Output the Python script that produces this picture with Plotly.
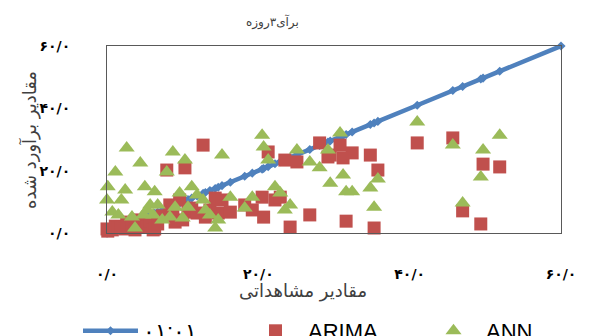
import plotly.graph_objects as go

# ---- data ----
observed = [0.0, 0.1, 0.7, 1.1, 1.5, 1.9, 2.4, 2.6, 3.3, 3.7, 4.4, 4.8, 5.0, 5.3, 5.7, 6.1,
            6.3, 6.7, 7.3, 7.9, 8.3, 8.7, 9.0, 9.6, 10.0, 10.3, 10.7, 11.2, 11.9, 12.7,
            13.0, 13.6, 14.3, 14.7, 15.2, 16.3, 18.2, 19.2, 20.5, 20.7, 21.3, 22.2, 22.9,
            23.5, 24.2, 25.1, 26.8, 28.1, 29.2, 29.5, 30.8, 31.2, 31.6, 32.4, 34.8, 35.3,
            35.8, 41.0, 45.7, 47.0, 49.4, 49.7, 51.9]
arima = [1.3, 0.6, 1.0, 2.2, 1.6, 1.9, 1.3, 3.5, 2.6, 1.0, 4.2, 2.6, 3.2, 1.9, 3.8, 1.0,
         1.3, 2.9, 5.5, 20.2, 9.0, 7.4, 3.5, 10.6, 4.2, 20.9, 6.7, 8.0, 6.4, 28.2,
         5.1, 7.4, 11.2, 6.4, 10.6, 6.7, 9.0, 7.4, 11.5, 5.1, 26.0, 10.6, 11.5,
         23.4, 1.9, 22.8, 5.8, 28.9, 24.4, 25.0, 28.2, 24.1, 3.8, 25.7, 25.0, 1.6,
         20.2, 28.9, 30.5, 7.1, 2.9, 22.1, 21.2]
ann = [10.6, 14.8, 6.7, 19.6, 5.8, 10.6, 13.8, 27.3, 5.1, 1.6, 22.5, 5.8, 14.8, 7.4, 9.0, 5.8,
       13.2, 9.0, 4.2, 19.6, 5.1, 26.0, 8.3, 12.8, 4.8, 23.4, 8.3, 14.8, 12.2, 10.6,
       7.4, 5.8, 1.6, 4.2, 25.0, 11.5, 8.0, 11.5, 31.4, 27.6, 23.4, 14.8, 12.8,
       7.4, 9.0, 26.6, 22.8, 20.9, 26.6, 16.0, 32.1, 18.6, 13.2, 13.2, 14.4, 8.3,
       17.3, 35.6, 28.2, 9.6, 18.0, 26.6, 31.4]
axis_min, axis_max = 0.0, 60.0
tick_vals = [0, 20, 40, 60]
tick_text = ["۰/۰", "۲۰/۰", "۴۰/۰", "۶۰/۰"]
series_names = ["۰۱:۰۱", "ARIMA", "ANN"]
chart_title = "برآی۳روزه"
x_title = "مقادیر مشاهداتی"
y_title = "مقادیر برآورد شده"

ref_line = sorted([axis_min] + observed + [axis_max])

BLUE, RED, GREEN = "#4F81BD", "#C0504D", "#9BBB59"
PW, PH, L, T = 454, 187, 107, 46

fig = go.Figure()
fig.add_trace(go.Scatter(x=ref_line, y=ref_line, mode="lines+markers", name=series_names[0],
                         line=dict(color=BLUE, width=4.5),
                         marker=dict(symbol="diamond", size=7, color=BLUE),
                         cliponaxis=False, legendwidth=95))
fig.add_trace(go.Scatter(x=observed, y=arima, mode="markers", name=series_names[1],
                         marker=dict(symbol="square", size=13, color=RED),
                         cliponaxis=False, legendwidth=108))
fig.add_trace(go.Scatter(x=observed, y=ann, mode="markers", name=series_names[2],
                         marker=dict(symbol="triangle-up", size=14, color=GREEN),
                         cliponaxis=False))

axis_common = dict(range=[axis_min, axis_max], tickvals=tick_vals, ticktext=tick_text,
                   showgrid=False, zeroline=False, showline=True, mirror=True,
                   linecolor="#595959", linewidth=1, ticks="",
                   tickfont=dict(family="DejaVu Sans", size=14, color="black", weight="bold"))
fig.update_xaxes(**axis_common, ticklabelstandoff=28)
fig.update_yaxes(**axis_common, ticklabelstandoff=33)

def px_x(p):
    return (p - L) / PW

def px_y(p):
    return (T + PH - p) / PH

ann_common = dict(xref="paper", yref="paper", showarrow=False, xanchor="center", yanchor="middle")
fig.add_annotation(text=chart_title, x=px_x(272), y=px_y(22), **ann_common,
                   font=dict(family="DejaVu Sans", size=12, color="#404040"))
fig.add_annotation(text=x_title, x=px_x(303), y=px_y(291), **ann_common,
                   font=dict(family="DejaVu Sans", size=18, color="#404040"))
fig.add_annotation(text=y_title, x=px_x(29), y=px_y(140), textangle=-90, **ann_common,
                   font=dict(family="DejaVu Sans", size=18, color="#404040"))

fig.update_layout(
    width=589, height=336,
    margin=dict(l=L, r=589 - L - PW, t=T, b=336 - T - PH, autoexpand=False),
    paper_bgcolor="white", plot_bgcolor="white",
    showlegend=True,
    legend=dict(orientation="h", x=px_x(78), xanchor="left", y=px_y(310), yanchor="top",
                itemwidth=55, font=dict(family="Liberation Sans", size=22, color="black"),
                bgcolor="rgba(0,0,0,0)", tracegroupgap=0),
)

fig.write_html("out.html", config={"displayModeBar": False},
               post_script="document.body.style.margin='0';")
